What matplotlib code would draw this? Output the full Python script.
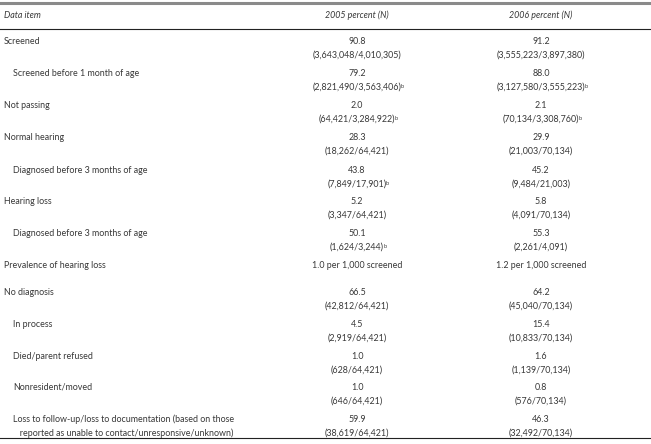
import matplotlib.pyplot as plt

plt.rcParams['font.family'] = ['Lato', 'DejaVu Sans']

# Datos de la tabla
items = ['Screened', 'Screened before 1 month of age', 'Not passing', 'Normal hearing',
         'Diagnosed before 3 months of age', 'Hearing loss', 'Diagnosed before 3 months of age',
         'Prevalence of hearing loss', 'No diagnosis', 'In process', 'Died/parent refused',
         'Nonresident/moved',
         'Loss to follow-up/loss to documentation (based on those\n   reported as unable to contact/unresponsive/unknown)']
indent = [0, 1, 0, 0, 1, 0, 1, 0, 0, 1, 1, 1, 1]
pct05 = ['90.8', '79.2', '2.0', '28.3', '43.8', '5.2', '50.1', '1.0 per 1,000 screened',
         '66.5', '4.5', '1.0', '1.0', '59.9']
n05 = ['(3,643,048/4,010,305)', '(2,821,490/3,563,406)', '(64,421/3,284,922)', '(18,262/64,421)',
       '(7,849/17,901)', '(3,347/64,421)', '(1,624/3,244)', '', '(42,812/64,421)',
       '(2,919/64,421)', '(628/64,421)', '(646/64,421)', '(38,619/64,421)']
pct06 = ['91.2', '88.0', '2.1', '29.9', '45.2', '5.8', '55.3', '1.2 per 1,000 screened',
         '64.2', '15.4', '1.6', '0.8', '46.3']
n06 = ['(3,555,223/3,897,380)', '(3,127,580/3,555,223)', '(70,134/3,308,760)', '(21,003/70,134)',
       '(9,484/21,003)', '(4,091/70,134)', '(2,261/4,091)', '', '(45,040/70,134)',
       '(10,833/70,134)', '(1,139/70,134)', '(576/70,134)', '(32,492/70,134)']
sup05 = [0, 1, 1, 0, 1, 0, 1, 0, 0, 0, 0, 0, 0]
sup06 = [0, 1, 1, 0, 0, 0, 0, 0, 0, 0, 0, 0, 0]
# posicion vertical (pixeles desde arriba) de cada fila
rowy = [41, 73, 105, 137, 170, 201, 233, 265, 292, 324, 356, 387, 419]

W, H = 651, 444
fig = plt.figure(figsize=(W/100, H/100), dpi=100)
ax = fig.add_axes([0, 0, 1, 1])
ax.set_xlim(0, W)
ax.set_ylim(H, 0)
ax.axis('off')

col = '#383838'
fs = 6.4
x05, x06 = 357, 541
dy = 14.5

ax.plot([0, W], [3.5, 3.5], color='#8a8a8a', lw=2.2)
ax.plot([0, W], [29, 29], color='#222222', lw=0.8)
ax.plot([0, W], [438, 438], color='#222222', lw=0.8)

ax.text(4, 15.5, 'Data item', style='italic', fontsize=fs, color=col, va='center')
ax.text(x05, 15.5, '2005 percent (N)', style='italic', fontsize=fs, color=col, va='center', ha='center')
ax.text(x06, 15.5, '2006 percent (N)', style='italic', fontsize=fs, color=col, va='center', ha='center')

sups = []
for i in range(len(items)):
    y = rowy[i]
    x = 4 + 9*indent[i]
    for j, linea in enumerate(items[i].split('\n')):
        ax.text(x, y + j*dy, linea, fontsize=fs, color=col, va='center')
    ax.text(x05, y, pct05[i], fontsize=fs, color=col, va='center', ha='center')
    ax.text(x06, y, pct06[i], fontsize=fs, color=col, va='center', ha='center')
    if n05[i]:
        t = ax.text(x05, y+dy, n05[i], fontsize=fs, color=col, va='center', ha='center')
        if sup05[i]:
            sups.append(t)
        t = ax.text(x06, y+dy, n06[i], fontsize=fs, color=col, va='center', ha='center')
        if sup06[i]:
            sups.append(t)

# superindices "b"
fig.canvas.draw()
r = fig.canvas.get_renderer()
for t in sups:
    bb = t.get_window_extent(renderer=r)
    xd, yd = ax.transData.inverted().transform((bb.x1, bb.y1))
    ax.text(xd-0.5, yd+1, 'b', fontsize=4, color=col, va='top', ha='left')

fig.savefig('out.png', dpi=100)
